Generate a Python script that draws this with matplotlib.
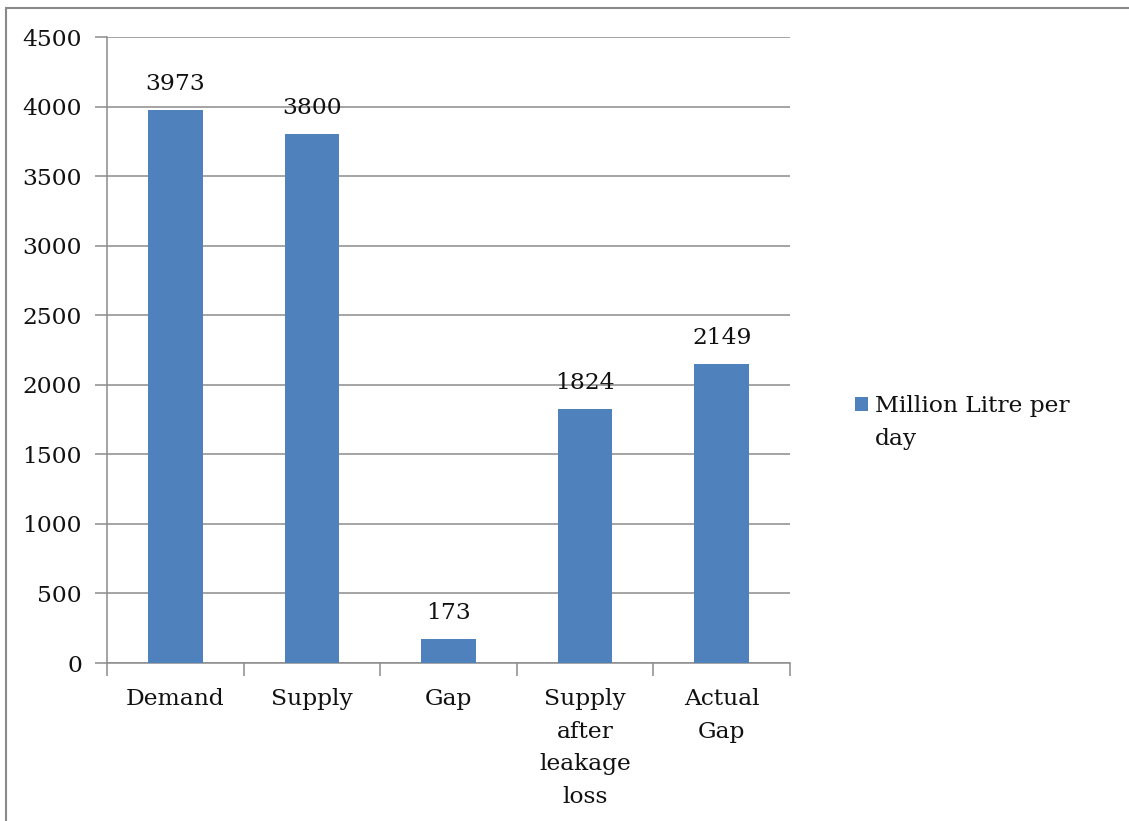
import matplotlib
matplotlib.use("Agg")
import matplotlib.pyplot as plt
from matplotlib.patches import Rectangle

# water demand / supply figures, million litre per day
categories = ["Demand", "Supply", "Gap", "Supply\nafter\nleakage\nloss", "Actual\nGap"]
values = [3973, 3800, 173, 1824, 2149]
series_name = "Million Litre per\nday"
yticks = [0, 500, 1000, 1500, 2000, 2500, 3000, 3500, 4000, 4500]

bar_color = "#4F81BD"
grid_color = "#8c8c8c"

plt.rcParams["font.family"] = ["DejaVu Serif"]
plt.rcParams["font.size"] = 16.8

fig = plt.figure(figsize=(11.29, 8.21), dpi=100)
ax = fig.add_axes([0.0948, 0.1924, 0.605, 0.7625])

x = range(len(categories))
bars = ax.bar(x, values, width=0.4, color=bar_color, zorder=3)

for rect, v in zip(bars, values):
    ax.annotate(str(v), (rect.get_x() + rect.get_width() / 2, v),
                xytext=(0, 11), textcoords="offset points",
                ha="center", va="bottom", color="#111111")

ax.set_xlim(-0.5, len(categories) - 0.5)
ax.set_ylim(0, 4500)
ax.set_yticks(yticks)
ax.yaxis.grid(True, color=grid_color, linewidth=1.1, zorder=0)

ax.set_xticks([i - 0.5 for i in range(len(categories) + 1)], minor=False)
ax.set_xticklabels([])
ax.set_xticks(list(x), minor=True)
ax.set_xticklabels(categories, minor=True, linespacing=1.62, color="#111111")
ax.tick_params(axis="x", which="minor", length=0, pad=18)
ax.tick_params(axis="x", which="major", length=9, color=grid_color, width=1.1)
ax.tick_params(axis="y", length=9, color=grid_color, width=1.1, pad=9,
               labelcolor="#111111")
for lbl in ax.get_xticklabels(minor=True):
    lbl.set_verticalalignment("top")

for side in ["top", "right"]:
    ax.spines[side].set_visible(False)
for side in ["left", "bottom"]:
    ax.spines[side].set_color(grid_color)
    ax.spines[side].set_linewidth(1.1)

# legend entry to the right of the plot
fig.patches.append(Rectangle((855 / 1129, 1 - 411 / 821), 13 / 1129, 14 / 821,
                             transform=fig.transFigure, facecolor=bar_color,
                             edgecolor="none"))
fig.text(875 / 1129, 1 - 395 / 821, series_name, ha="left", va="top",
         linespacing=1.62, color="#111111", transform=fig.transFigure)

# chart area border (runs off the right and bottom edges)
fig.patches.append(Rectangle((6 / 1129, -0.05), 1.1, 1 - 8 / 821 + 0.05,
                             transform=fig.transFigure, facecolor="none",
                             edgecolor="#8a8a8a", linewidth=1.5))

fig.savefig("out.png", dpi=100)
